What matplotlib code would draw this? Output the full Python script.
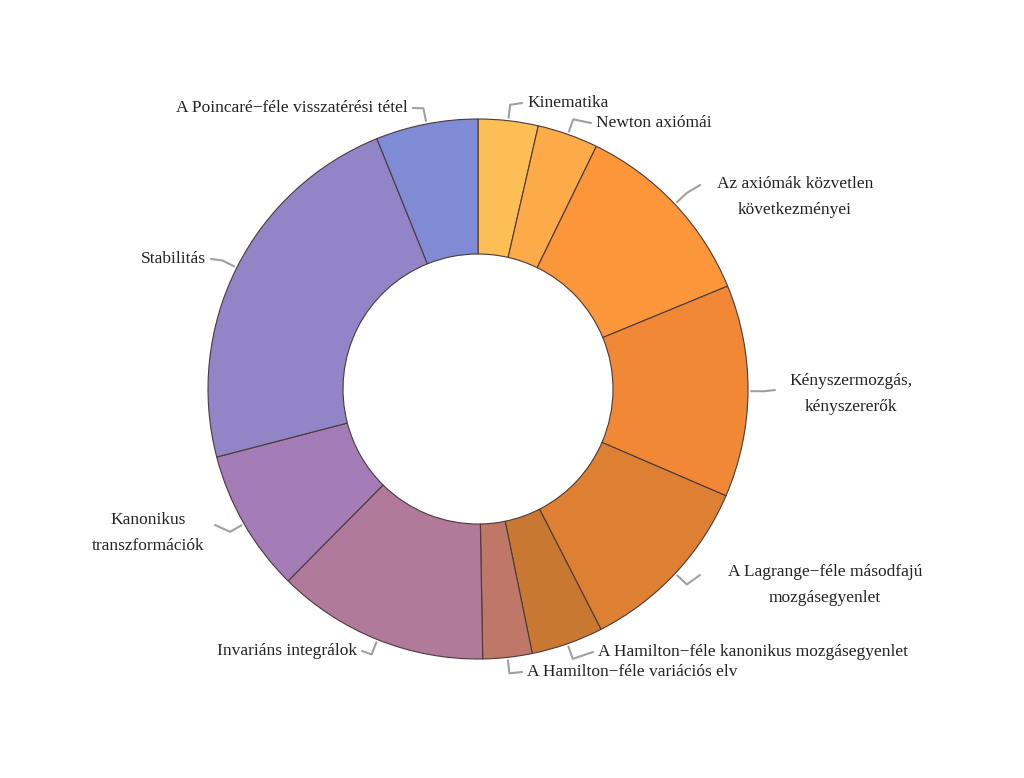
import numpy as np
import matplotlib.pyplot as plt

labels = ["Kinematika", "Newton axiómái", "Az axiómák közvetlen\nkövetkezményei",
          "Kényszermozgás,\nkényszererők", "A Lagrange−féle másodfajú\nmozgásegyenlet",
          "A Hamilton−féle kanonikus mozgásegyenlet", "A Hamilton−féle variációs elv",
          "Invariáns integrálok", "Kanonikus\ntranszformációk", "Stabilitás",
          "A Poincaré−féle visszatérési tétel"]
sizes = [12.9, 13.1, 41.6, 45.7, 39.6, 15.5, 10.6, 45.7, 30.7, 82.6, 22.0]
colors = ["#FDBE55", "#FCAB48", "#FB963B", "#F08836", "#DD8033", "#C97833",
          "#BF7868", "#B27A9A", "#A37CB8", "#9185C8", "#7F8BD4"]

# label anchor (x, y from top, ha)
label_pos = [(527, 103, "left"), (596, 123, "left"), (795, 197, "center"),
             (851, 394, "center"), (825, 585, "center"), (598, 652, "left"),
             (527, 672, "left"), (357, 651, "right"), (148, 533, "center"),
             (206, 259, "right"), (408, 108, "right")]
line_end = [(522, 103), (591, 123), (700, 185), (775, 390), (700, 575),
            (593, 652), (522, 672), (362, 651), (215, 525), (211, 259), (413, 108)]

plt.rcParams['font.family'] = ['Liberation Serif', 'DejaVu Serif']
fig = plt.figure(figsize=(10.24, 7.78), dpi=100)
ax = fig.add_axes([0, 0, 1, 1])
ax.set_xlim(0, 1024)
ax.set_ylim(0, 778)
ax.axis("off")

cx, cy, R = 478, 389, 270
ax.pie(sizes, colors=colors, startangle=90, counterclock=False, center=(cx, cy),
       radius=R, wedgeprops=dict(width=135, edgecolor="#4a3a3a", linewidth=0.8),
       frame=True)
ax.set_xlim(0, 1024)
ax.set_ylim(0, 778)
ax.set_aspect("equal")
ax.axis("off")

cum = np.cumsum([0] + sizes)
for i, lab in enumerate(labels):
    mid = np.deg2rad(90 - (cum[i] + cum[i + 1]) / 2)
    p0 = (cx + 273 * np.cos(mid), cy + 273 * np.sin(mid))
    p1 = (cx + 286 * np.cos(mid), cy + 286 * np.sin(mid))
    ex, ey = line_end[i]
    ax.plot([p0[0], p1[0], ex], [p0[1], p1[1], 778 - ey], color="#a0a0a0", lw=1.5,
            solid_capstyle="round")
    tx, ty, ha = label_pos[i]
    ax.text(tx, 778 - ty, lab, ha=ha, va="center", fontsize=12.5, linespacing=1.9,
            color="#222222")

fig.savefig("out.png", dpi=100)
